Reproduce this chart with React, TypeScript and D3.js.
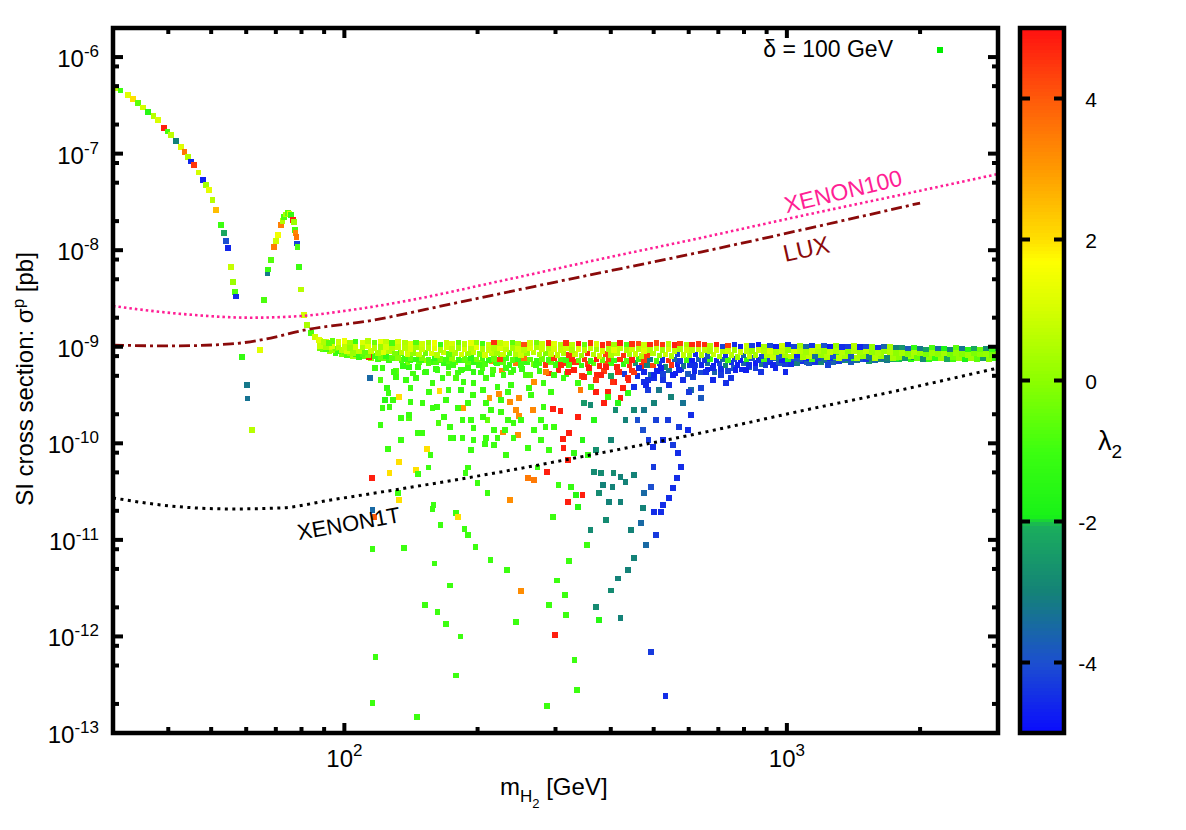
import React from 'react'
import * as d3 from 'd3'

const width = 1186
const height = 830
const plot = { left: 113, right: 998, top: 28, bottom: 733 }
const cbar = { left: 1020, right: 1064 }
const font = 'Liberation Sans, Arial, Helvetica, sans-serif'

// low mass branch: [m_H2 GeV, sigma pb, lambda2]
const resonanceBranch: [number, number, number][] = [
  [30.5, 4.8e-7, 0.8], [31.2, 4.5e-7, -1.0], [32.4, 4.05e-7, 1.2], [33.3, 3.7e-7, 2.0], [34.2, 3.34e-7, -0.6],
  [35.1, 3.0e-7, 1.0], [36.0, 2.7e-7, -1.5], [37.0, 2.45e-7, 0.6], [37.9, 2.23e-7, 1.1], [39.1, 1.84e-7, 4.8],
  [39.8, 1.7e-7, -0.9], [40.6, 1.56e-7, 0.7], [41.6, 1.36e-7, -3.0], [42.7, 1.17e-7, 1.2], [43.5, 1.04e-7, 3.6],
  [44.3, 9.2e-8, 0.5], [45.0, 8.3e-8, -4.6], [45.7, 7.6e-8, 4.5], [46.8, 6.4e-8, 1.0], [47.9, 5.3e-8, -4.7],
  [48.6, 4.7e-8, 0.3], [49.4, 4.2e-8, 1.3], [50.3, 3.3e-8, 0.6], [51.2, 2.6e-8, 2.5], [52.6, 1.82e-8, -1.0],
  [53.4, 1.51e-8, -2.2], [54.0, 1.25e-8, -4.0], [54.5, 1.05e-8, -4.6], [55.4, 6.7e-9, 0.8], [56.0, 4.7e-9, 0.2],
  [56.6, 3.7e-9, -0.8], [56.9, 3.3e-9, -4.5],
  [58.7, 7.8e-10, -1.2], [60.2, 4.0e-10, -3.2], [60.4, 2.9e-10, -3.3], [61.8, 1.37e-10, 0.6], [64.4, 9.2e-10, 1.2],
  [65.8, 3.05e-9, -0.8], [67.1, 5.8e-9, -3.2], [67.3, 6.3e-9, -1.0], [68.2, 7.9e-9, -0.7], [69.3, 1.08e-8, 3.5],
  [70.0, 1.25e-8, 0.9], [70.7, 1.43e-8, 1.5], [71.8, 1.82e-8, 3.4], [72.4, 2.0e-8, 0.5], [73.0, 2.2e-8, -0.8],
  [73.8, 2.35e-8, 0.4], [74.5, 2.43e-8, -0.6], [75.1, 2.4e-8, 1.0], [75.7, 2.31e-8, -1.2], [76.6, 2.05e-8, 4.8],
  [76.9, 1.96e-8, 0.2], [77.3, 1.62e-8, -0.9], [77.6, 1.51e-8, 3.3], [77.9, 1.36e-8, 3.6], [78.2, 1.17e-8, -4.2],
  [78.4, 1.08e-8, -0.8], [78.9, 6.7e-9, -1.0], [79.7, 3.9e-9, 0.6], [81.0, 2.13e-9, 1.0], [82.2, 1.68e-9, 0.4],
  [84.0, 1.39e-9, -0.8], [85.8, 1.27e-9, 0.9], [87.5, 1.17e-9, 1.2], [90.0, 1.12e-9, 0.5], [92.2, 1.09e-9, -0.6],
]

// dense band around 1e-9 pb, sigma in units of 1e-10 pb
const BAND_UNIT = 1e-10
const bandMass = [
  88, 91, 94, 97, 100, 103, 106, 110, 113, 117,
  121, 124, 128, 132, 137, 141, 145, 150, 155, 160,
  165, 170, 175, 181, 187, 193, 199, 205, 212, 218,
  225, 232, 240, 247, 255, 263, 272, 280, 289, 298,
  308, 317, 327, 338, 349, 360, 371, 383, 395, 407,
  420, 434, 447, 462, 476, 491, 507, 523, 540, 557,
  574, 593, 611, 631, 651, 671, 693, 715, 737, 761,
  785, 810, 835, 862, 889, 917, 946, 976, 1007, 1039,
  1072, 1106, 1141, 1177, 1215, 1253, 1293, 1334, 1376, 1420,
  1465, 1511, 1559, 1609, 1660, 1712, 1767, 1823, 1880, 1940,
  2002, 2065, 2130, 2198, 2268, 2340, 2414, 2490, 2569, 2651,
  2735, 2822, 2911, 2990,
]
const bandMassMid = [
  89.5, 92.5, 95.5, 98.5, 101.5, 104.5, 108, 111.5, 115, 119,
  122.5, 126, 130, 134.5, 139, 143, 147.5, 152.5, 157.5, 162,
  167.5, 172.5, 178, 184, 190, 196, 202, 208, 215, 221.5,
  228.5, 236, 243.5, 251, 259, 267.5, 276, 284.5, 293.5, 303,
  312.5, 322, 332.5, 343.5, 354.5, 365.5, 377, 389, 401, 413.5,
  427, 440.5, 454.5, 469, 483.5, 499, 515, 531.5, 548.5, 565.5,
  583.5, 602, 621, 641, 661, 682, 704, 726, 749, 773,
  797.5, 822.5, 848.5, 875.5, 903, 931.5, 961, 991.5, 1023, 1055.5,
  1089, 1123.5, 1159, 1196, 1234, 1273, 1313.5, 1355, 1398, 1442.5,
  1488, 1535, 1584, 1634.5, 1686, 1739.5, 1795, 1851.5, 1910, 1971,
  2033.5, 2097.5, 2164, 2233, 2304, 2377, 2452, 2529.5, 2610, 2693,
  2778.5, 2866.5, 2950,
]
const bandTopSigma = [
  11.6, 11.3, 11.5, 11.2, 11.4, 11.0, 11.3, 11.1, 11.4, 11.0, 11.2, 11.3, 10.9, 11.2,
  11.0, 10.8, 11.1, 10.7, 11.0, 10.9, 10.6, 11.1, 10.8, 11.0, 10.7, 10.9, 11.1, 10.8, 10.6, 11.0, 10.9, 10.7, 11.0, 10.8, 10.6, 10.9, 11.1, 10.7, 10.9, 10.8, 10.6,
  10.9, 10.6, 10.8, 10.5, 10.9, 10.7, 10.4, 10.8, 10.6, 10.9, 10.5, 10.7, 10.8, 10.4, 10.6, 10.9, 10.5, 10.7, 10.4, 10.8, 10.6, 10.5, 10.7,
  10.4, 10.2, 10.5, 10.1, 10.3, 10.4, 10.0, 10.3, 10.2, 10.4, 10.1, 10.3, 10.0, 10.2, 10.4, 10.1, 10.3, 10.0, 10.2, 10.1, 10.3, 10.0, 10.2, 9.9, 10.1, 10.2, 9.9, 10.1, 10.0, 9.8, 10.1, 9.9, 9.8,
  9.7, 9.5, 9.8, 9.6, 9.4, 9.7, 9.5, 9.6, 9.4, 9.7, 9.5, 9.3, 9.6, 9.4, 9.5, 9.3, 9.5,
]
const bandTopLambda = [
  0.8, 1.2, -0.6, 0.9, 1.4, 0.3, -1.0, 1.1, 0.6, -0.4, 1.3, 0.7, -0.8, 1.0,
  0.5, 1.2, -0.7, 0.9, 0.2, 1.4, -1.1, 0.8, 1.0, -0.5, 0.6, 1.3, 0.1, -0.9, 0.9, 4.6, 0.7, 1.1, -0.6, 0.4, 4.2, 1.0, -0.3, 0.8, 4.7, 1.2, 0.5,
  4.6, 0.6, 4.8, -0.5, 4.5, 1.0, 4.7, 4.4, 0.3, 4.8, -0.8, 4.6, 4.2, 0.9, 4.7, 4.3, 4.5, 0.6, 4.8, 4.4, 0.4, 4.7, 4.5,
  4.6, 0.5, 4.8, -4.2, 4.4, -4.5, -4.7, 0.8, -4.3, -4.8, 0.4, -4.1, -4.7, 0.9, -4.5, -4.2, 0.3, -3.5, -4.4, 0.7, -4.0, -4.7, 0.2, -4.5, -4.3, 0.6, -4.6, -4.1, 0.1, -4.4, -3.6, 0.4, -3.0,
  -2.6, -3.8, -1.2, -3.2, -2.4, -0.8, -3.5, -1.8, -2.9, -0.6, -3.3, -1.5, -2.2, -0.4, -2.7, -1.0, -2.0,
]
const bandCoreSigma = [
  10.2, 9.9, 10.1, 9.8, 10.0, 9.7, 10.0, 9.8, 10.1, 9.7, 9.9, 10.0, 9.6, 9.9,
  9.7, 9.5, 9.8, 9.4, 9.7, 9.6, 9.3, 9.8, 9.5, 9.7, 9.4, 9.6, 9.8, 9.5, 9.3, 9.7, 9.6, 9.4, 9.7, 9.5, 9.3, 9.6, 9.8, 9.4, 9.6, 9.5, 9.3,
  9.6, 9.3, 9.5, 9.2, 9.6, 9.4, 9.1, 9.5, 9.3, 9.6, 9.2, 9.4, 9.5, 9.1, 9.3, 9.6, 9.2, 9.4, 9.1, 9.5, 9.3, 9.2, 9.4,
  9.2, 9.0, 9.3, 8.9, 9.1, 9.2, 8.8, 9.1, 9.0, 9.2, 8.9, 9.1, 8.8, 9.0, 9.2, 8.9, 9.1, 8.8, 9.0, 8.9, 9.1, 8.8, 9.0, 8.7, 8.9, 9.0, 8.7, 8.9, 8.8, 8.6, 8.9, 8.7, 8.6,
  8.6, 8.4, 8.7, 8.5, 8.3, 8.6, 8.4, 8.5, 8.3, 8.6, 8.4, 8.2, 8.5, 8.3, 8.4, 8.2, 8.4,
]
const bandCoreLambda = [
  0.8, 0.3, 1.1, 0.5, 0.7, 0.1, 0.9, 0.4, 1.2, 0.6, 0.2, 1.0, 0.5, 0.8,
  0.6, 1.1, 0.3, 0.8, 0.5, 1.2, 0.4, 0.9, 0.7, 0.2, 1.0, 0.6, 1.3, 0.4, 0.8, 0.5, 1.1, 0.7, 0.3, 0.9, 0.6, 1.2, 0.4, 0.8, 0.5, 1.0, 0.7,
  0.9, 0.4, 1.1, 0.6, 0.8, 0.3, 1.0, 0.5, 1.2, 0.7, 0.4, 0.9, 0.6, 1.1, 0.5, 0.8, 0.3, 1.0, 0.7, 0.4, 0.9, 0.6, 0.8,
  0.7, 0.4, 1.0, 0.5, 0.8, 0.3, 0.9, 0.6, 0.2, 0.8, 0.5, 1.0, 0.4, 0.7, 0.1, 0.9, 0.6, 0.3, 0.8, 0.5, 0.2, 0.7, 0.4, 0.6, 0.0, 0.5, 0.3, 0.6, 0.1, 0.4, 0.2, 0.5, 0.0,
  0.3, -0.1, 0.4, 0.1, -0.2, 0.2, 0.0, 0.3, -0.3, 0.1, -0.1, 0.2, -0.2, 0.0, 0.1, -0.3, -0.1,
]
const bandInnerSigma = [
  10.4, 10.0, 9.6, 9.3, 9.1, 8.6, 8.9, 8.7, 9.0, 8.6, 8.8, 8.9, 8.5,
  8.7, 8.4, 8.6, 8.3, 8.6, 8.5, 8.2, 8.7, 8.4, 8.6, 8.3, 8.5, 8.7, 8.4, 8.2, 8.6, 8.5, 8.3, 8.6, 8.4, 8.2, 8.5, 8.7, 8.3, 8.5, 8.4, 8.2,
  8.5, 8.2, 8.4, 8.1, 8.5, 8.3, 8.0, 8.4, 8.2, 8.5, 8.1, 8.3, 8.4, 8.0, 8.2, 8.5, 8.1, 8.3, 8.0, 8.4, 8.2, 8.1, 8.3,
  8.2, 8.0, 8.3, 7.9, 8.1, 8.2, 7.8, 8.1, 8.0, 8.2, 7.9, 8.1, 7.8, 8.0, 8.2, 7.9, 8.1, 7.8, 8.0, 7.9, 8.1, 7.8, 8.0, 7.7, 7.9, 8.0, 7.7, 7.9, 7.8, 7.6, 7.9, 7.7, 7.6,
  7.8, 7.6, 7.9, 7.7, 7.5, 7.8, 7.6, 7.7, 7.5, 7.8, 7.6, 7.4, 7.7, 7.5, 7.6, 7.4, 7.6,
]
const bandInnerLambda = [
  0.4, 0.9, -0.3, 0.6, 1.0, 0.2, 0.7, -0.5, 0.8, 0.3, 1.1, 0.5, -0.2,
  0.6, 0.9, 0.1, 0.7, -0.4, 1.0, 0.5, 0.8, -0.6, 0.4, 0.9, 0.2, 0.7, -0.3, 1.0, 0.6, 0.3, 0.8, -0.5, 0.5, 0.9, 0.1, 0.7, 0.4, -0.2, 0.8, 0.6,
  0.5, 4.5, 0.8, 0.2, 4.7, 0.6, 0.9, 4.3, 0.4, 0.7, 4.6, 0.3, 0.8, 0.5, 4.4, 0.6, 0.2, 0.9, 0.4, -4.2, 0.7, 0.3, -4.5,
  0.5, -3.8, 0.8, 0.3, -4.4, 0.6, 0.2, -3.5, 0.7, 0.4, -4.1, 0.5, 0.8, -3.9, 0.3, 0.6, -4.6, 0.4, 0.7, -3.4, 0.2, 0.5, -4.0, 0.6, 0.3, -3.7, 0.4, 0.1, -3.2, 0.5, 0.2, -2.9, 0.3,
  0.0, -2.5, 0.3, -0.5, -2.8, 0.1, -1.2, 0.2, -2.2, -0.3, 0.1, -1.8, 0.2, -0.6, -2.4, 0.0, -1.0,
]
const bandFillSigma = [
  9.6, 9.4, 9.2, 9.0, 8.8, 8.6, 8.4, 8.3, 8.1, 8.0, 7.8, 7.9, 7.6, 7.7,
  7.5, 7.7, 7.4, 7.6, 7.3, 7.7, 7.5, 7.4, 7.6, 7.3, 7.5, 7.7, 7.4, 7.6, 7.3, 7.5, 7.4, 7.7, 7.3, 7.5, 7.6, 7.4, 7.2, 7.5, 7.3, 7.6, 7.4,
  7.3, 7.5, 7.2, 7.4, 7.1, 7.4, 7.3, 7.5, 7.2, 7.4, 7.1, 7.3, 7.5, 7.2, 7.4, 7.1, 7.3, 7.2, 7.4, 7.1, 7.3, 7.2, 7.4,
  7.3, 7.5, 7.2, 7.4, 7.3, 7.5, 7.2, 7.4, 7.6, 7.3, 7.5, 7.4, 7.6, 7.3, 7.5, 7.7, 7.4, 7.6, 7.5, 7.7, 7.4, 7.6, 7.8, 7.5, 7.7, 7.6, 7.8, 7.5, 7.7, 7.9, 7.6, 7.8, 7.7,
  7.9, 8.1, 7.8, 8.0, 7.9, 8.1, 7.8, 8.0, 8.2, 7.9, 8.1, 8.0, 7.8, 8.1, 7.9, 8.0, 7.8,
]
const bandFillLambda = [
  -0.3, -0.9, 0.2, -1.1, -0.5, 0.0, -1.2, -0.7, -0.2, -1.0, -0.4, -1.3, -0.6, -0.1,
  -1.0, -0.5, -1.2, -0.2, -0.8, -1.3, -0.4, -0.9, 0.1, -1.1, -0.6, -1.4, -0.3, -0.9, -1.2, -0.5, 4.4, -1.0, -0.7, -1.3, 3.6, -0.6, -1.1, -0.4, -0.9, 4.6, -0.8,
  -1.0, 4.7, -0.6, 4.5, -1.2, 4.8, -0.4, 4.3, -1.1, 4.6, -0.7, 4.8, -1.3, 4.4, -3.2, -0.8, -4.5, 4.6, -3.6, -4.3, -1.0, -4.7, -3.8,
  -4.4, -1.2, -4.6, -3.5, -0.9, -4.2, -4.8, -1.4, -3.9, -4.5, -0.8, -4.3, -3.4, -4.7, -1.1, -4.0, -3.7, -4.6, -0.7, -4.2, -3.3, -4.5, -1.3, -3.9, -4.1, -0.9, -3.6, -4.4, -2.8, -1.2, -3.5, -2.6, -1.0,
  -2.3, -0.8, -2.9, -1.5, -0.4, -2.5, -1.7, -0.6, -2.1, -1.2, -0.3, -2.6, -1.0, -1.8, -0.5, -2.2, -1.4,
]
const bandLowSigma = [
  9.4, 9.0, 8.6, 8.4, 8.2, 8.0, 7.8, 7.9, 7.6, 7.4, 7.7, 7.3, 7.6,
  7.3, 7.0, 7.4, 6.9, 7.2, 7.0, 7.3, 6.8, 7.1, 6.9, 7.2, 6.7, 7.0, 6.8, 6.6, 7.1, 6.8, 6.9, 6.5, 6.8, 6.7, 7.0, 6.6, 6.8, 6.5, 6.9, 6.7,
  6.7, 6.5, 6.9, 6.4, 6.6, 6.8, 6.3, 6.6, 6.7, 6.2, 6.6, 6.4, 6.8, 6.3, 6.5, 6.4, 6.7, 6.2, 6.5, 6.6, 6.3, 6.5, 6.4,
  6.5, 6.8, 6.3, 6.7, 6.4, 6.9, 6.5, 6.7, 6.3, 6.8, 6.6, 6.9, 6.5, 6.8, 6.6, 7.0, 6.7, 7.1, 6.8, 7.0, 6.9, 7.2, 6.9, 7.1, 7.3, 7.0, 7.2, 7.4, 7.1, 7.3, 7.5, 7.2, 7.4,
  7.5, 7.7, 7.4, 7.6, 7.8, 7.5, 7.7, 7.6, 7.8, 7.5, 7.7, 7.9, 7.6, 7.8, 7.7, 7.9, 7.7,
]
const bandLowLambda = [
  -0.6, 0.3, -1.0, -0.2, -0.8, 0.4, -1.2, -0.5, 0.1, -0.9, -0.3, -1.1, -0.4,
  -0.8, -0.2, -1.3, -0.6, 0.2, -1.0, -0.4, -1.2, -0.7, 0.0, -0.9, -0.5, -1.3, -0.3, -0.8, 3.2, -1.0, -0.6, -1.2, 3.5, -0.7, -1.1, -0.2, -0.9, 4.5, -0.5, -1.0,
  4.6, -0.8, 4.8, -1.2, 4.4, -0.6, 4.7, 4.2, -1.0, 4.8, -1.4, 4.5, -2.5, 4.7, -3.0, 4.3, -4.4, -2.8, 4.6, -4.6, -3.2, -4.5, -4.2,
  -4.6, -3.4, -4.8, -4.1, -3.0, -4.5, -4.7, -3.6, -4.3, -4.8, -3.2, -4.4, -4.6, -3.8, -4.2, -4.7, -3.1, -4.5, -3.9, -4.4, -2.9, -4.1, -3.6, -4.3, -2.7, -3.8, -3.3, -4.0, -2.5, -3.5, -2.9, -3.2, -2.2,
  -2.0, -2.8, -1.5, -2.4, -1.8, -1.1, -2.6, -1.4, -2.0, -0.9, -2.3, -1.6, -1.2, -2.1, -0.8, -1.7, -1.3,
]
// sparse lower edge of the band: [m GeV, sigma 1e-10 pb, lambda2]
const bandEdge: [number, number, number][] = [
  [122, 6.0, -1.0], [131, 5.6, -0.7], [140, 6.2, -1.2], [152, 5.4, -0.9], [161, 5.9, -1.1], [172, 5.3, -0.6], [185, 5.8, -1.0],
  [196, 5.5, -1.2], [205, 6.0, -0.8], [216, 5.2, -1.0], [227, 5.7, 3.3], [238, 5.4, -0.9], [252, 5.9, -1.1], [263, 5.1, -0.7],
  [276, 5.6, -1.0], [290, 5.3, 4.6], [305, 5.7, 4.7], [318, 5.2, -1.0], [330, 5.8, 4.8], [344, 5.0, 4.5], [358, 5.5, -1.3],
  [372, 5.1, 4.7], [386, 5.6, 4.4], [400, 5.0, -2.2], [415, 5.4, 4.8], [430, 5.2, -4.3], [446, 5.7, 4.6], [460, 5.0, -4.5],
  [476, 5.5, -4.6], [492, 5.1, -3.5], [508, 5.6, -4.7], [525, 5.2, -4.2], [542, 5.7, -3.3], [560, 5.3, -4.8], [578, 5.8, -4.4],
  [598, 5.2, -3.8], [618, 5.6, -4.6], [640, 5.4, -4.1], [662, 5.8, -4.7], [686, 5.5, -3.6], [710, 5.9, -4.5], [735, 5.6, -4.2],
  [760, 6.0, -3.9], [790, 5.8, -4.6], [820, 6.2, -3.5], [850, 6.0, -4.3],
]

// points spread below the band: [m GeV, sigma pb, lambda2]
const scatterPoints: [number, number, number][] = [
  [113.5, 7.8e-10, 4.8], [114.1, 4.75e-10, -3.5], [119.6, 8.43e-10, -1], [124.8, 3.75e-10, -1.2], [125.9, 3.32e-10, -1],
  [123.6, 2.81e-10, -1.5], [126.4, 2.38e-10, -1], [132.7, 3.02e-10, 2], [130.7, 4.86e-10, -1], [134.1, 1.83e-10, -1],
  [139.8, 1.83e-10, -0.8], [146.5, 1.28e-10, -1], [153.5, 8.7e-11, 2], [164.2, 3.47e-10, 2], [161.7, 2.38e-10, -1],
  [163.3, 1.63e-10, -0.8], [173.0, 1.48e-10, -1], [176.6, 1.14e-10, -1.2], [178.5, 4.75e-10, -0.8], [186.0, 4.3e-10, -1],
  [186.0, 2.33e-10, 3], [193.0, 1.74e-10, -1], [205.5, 3.57e-10, -1], [213.0, 2.95e-10, 3], [210.8, 1.74e-10, -0.5],
  [217.6, 9.6e-11, -1], [207.7, 9.8e-11, -1], [223.3, 3.24e-10, 3.2], [228.0, 1.30e-10, 3.2], [234.0, 1.74e-10, -1],
  [236.4, 2.68e-10, 3.2], [246.6, 1.22e-10, 3.2], [247.8, 1.92e-10, 3.2], [259.7, 8.9e-11, -1], [266.5, 2.21e-10, 3.3],
  [267.9, 4.3e-10, 3.2], [282.0, 2.38e-10, -1], [296.0, 2.26e-10, 4.8], [308.0, 2.16e-10, 4.8], [297.5, 1.48e-10, -1],
  [311.6, 1.11e-10, 4.8], [313.0, 8.9e-11, 4.8], [321.5, 1.28e-10, 4.8], [330.0, 7.9e-11, -1.2], [319.8, 6.7e-11, 4.8],
  [337.0, 1.87e-10, 4.8], [345.5, 1.08e-10, -1.5], [355.0, 7.6e-11, -1.2], [342.0, 3.57e-10, 3.5], [347.5, 2.63e-10, -2.5],
  [360.0, 2.5e-10, -2.8], [366.0, 1.74e-10, -1.5], [370.0, 3.40e-10, 4.8], [385.6, 2.63e-10, 4.8], [394.0, 3.40e-10, 4.8],
  [406.4, 4.3e-10, 4.8], [421.0, 2.95e-10, 4.8], [439.0, 4.53e-10, 4.8], [450.7, 3.85e-10, -4.5], [475.0, 4.3e-10, -4.5],
  [500.5, 4.75e-10, -4.5], [485.0, 3.57e-10, -4.3], [366.0, 5.05e-11, -2.8], [380.0, 4.93e-11, -2.8], [406.0, 4.93e-11, -2.8],
  [421.0, 4.5e-11, -3], [450.7, 4.7e-11, -3], [384.0, 3.70e-11, -3], [404.0, 3.53e-11, -3], [432.0, 3.97e-11, -3],
  [460.0, 1.74e-10, -4], [472.5, 1.37e-10, -4], [487.0, 1.08e-10, -4.3], [497.7, 9.1e-11, -4.5], [538.0, 1.74e-10, -4.3],
  [570.0, 1.48e-10, -4.3], [597.0, 1.37e-10, -4.5], [567.0, 7.9e-11, -4.5], [576.0, 5.7e-11, -4.5], [500.0, 5.7e-11, -4.3],
  [492.5, 3.53e-11, -4], [475.0, 3.07e-11, -3.5], [519.0, 1.95e-11, -4.5], [500.5, 1.95e-11, -4.5], [472.5, 2.14e-11, -3],
  [396.0, 2.47e-11, -3], [421.0, 2.47e-11, -3], [376.0, 3.07e-11, -2.8], [273.0, 5.6e-11, -1], [287.0, 5.05e-11, 4.8],
  [259.7, 4.4e-11, 3.5], [267.9, 4.17e-11, 3.5], [305.0, 3.70e-11, -1], [324.8, 3.53e-11, -1.2], [333.3, 2.92e-11, -1.5],
  [345.5, 2.92e-11, 4.8], [319.8, 2.47e-11, 4.8], [337.0, 2.19e-11, -1.5], [296.0, 1.73e-11, -1], [236.4, 2.59e-11, 3.2],
  [210.8, 3.07e-11, -1], [188.0, 4.93e-11, -1], [190.0, 5.6e-11, -1], [200.0, 3.88e-11, -1], [178.5, 1.91e-11, -1],
  [180.4, 1.73e-11, 2], [145.0, 5.29e-11, 2], [146.5, 4.8e-11, -1], [126.4, 4.93e-11, 2], [132.7, 6.4e-11, 2],
  [155.0, 5.6e-11, -1], [125.4, 8.7e-11, -1], [115.3, 4.4e-11, 4.8], [132.0, 3.07e-11, -1], [132.7, 2.59e-11, 2],
  [159.0, 2.30e-11, -1], [158.3, 2.09e-11, -1], [115.8, 2.04e-11, -3.5], [117.0, 1.73e-11, 4], [165.0, 1.42e-11, -1],
  [187.0, 1.30e-11, -1], [190.0, 1.12e-11, -1], [136.2, 8.2e-12, -1], [198.0, 8.4e-12, -1], [115.8, 8.0e-12, -1],
  [160.0, 5.7e-12, -1], [173.0, 3.37e-12, -1], [152.0, 2.12e-12, -1], [162.5, 1.79e-12, -1], [169.5, 1.35e-12, -1],
  [183.0, 1.0e-12, -1], [178.5, 3.94e-13, -1], [117.6, 6.1e-13, -1], [115.8, 2.05e-13, -1], [145.8, 1.47e-13, -1],
  [214.0, 6.2e-12, -1], [232.8, 4.9e-12, -1], [250.4, 2.95e-12, 3.2], [244.0, 1.41e-12, -1], [299.0, 1.03e-12, 4.8],
  [289.7, 2.12e-12, -1], [302.0, 3.8e-12, -1], [315.0, 2.68e-12, -1], [321.5, 6.0e-12, -1], [316.6, 1.67e-12, -1],
  [331.5, 5.7e-13, -1], [335.0, 2.8e-13, -1], [287.0, 1.9e-13, -1], [370.0, 2.02e-12, -2.8], [376.0, 1.48e-12, -1.5],
  [400.0, 3.0e-12, -2.8], [414.8, 3.97e-12, -3], [437.0, 4.9e-12, -3], [450.7, 6.5e-12, -3], [480.0, 8.8e-12, -3.5],
  [505.6, 1.12e-11, -4.3], [421.0, 1.55e-12, -3], [492.5, 6.9e-13, -4.3], [532.0, 2.4e-13, -4.5], [353.0, 8.8e-12, -1],
  [360.0, 1.27e-11, -2.8], [390.0, 1.61e-11, -2.8], [443.8, 1.27e-11, -3], [467.6, 1.5e-11, -3.5], [524.5, 2.3e-11, -4.5],
  [541.0, 2.7e-11, -4.5], [552.5, 3.45e-11, -4.5], [564.0, 4.4e-11, -4.5],
  [126.4, 7.5e-10, -1], [134.1, 8.6e-10, -0.8], [141.2, 7.3e-10, -1], [146.5, 6.2e-10, -1], [155.0, 6.8e-10, -0.7],
  [162.5, 5.75e-10, -1], [172.0, 6.2e-10, -1], [180.4, 5.4e-10, -0.9], [190.0, 6.05e-10, -1], [203.3, 5.4e-10, -1],
  [216.5, 5.75e-10, -0.8], [229.0, 5.1e-10, -1], [241.0, 5.75e-10, -1], [129.3, 5.5e-10, -1], [145.0, 4.75e-10, -1],
  [158.3, 4.2e-10, -1], [172.0, 3.57e-10, -1], [196.0, 4.2e-10, -1], [222.0, 3.85e-10, -1], [234.0, 3.4e-10, -1],
  [247.8, 2.95e-10, 3.2], [261.0, 3.75e-10, -1], [282.0, 4.2e-10, -1], [297.5, 5.1e-10, -1], [313.0, 4.75e-10, -1],
  [141.2, 3.75e-10, -1], [150.3, 2.63e-10, -1], [122.0, 2.33e-10, -1], [128.6, 2.81e-10, -1], [141.2, 2.68e-10, -1],
  [158.3, 2.33e-10, -1], [167.8, 1.87e-10, -1], [185.0, 1.74e-10, -1], [196.0, 1.45e-10, -1], [205.5, 1.87e-10, -1],
  [217.6, 1.37e-10, -1], [230.5, 1.37e-10, -1], [139.8, 1.97e-10, -1], [180.4, 2.33e-10, -1], [190.0, 2.63e-10, -1],
  [208.8, 2.63e-10, -1], [225.6, 2.12e-10, -1], [241.0, 1.63e-10, -1], [250.4, 1.74e-10, -1], [267.9, 1.37e-10, -1],
  [285.0, 1.48e-10, -1], [277.8, 1.08e-10, -1], [150.3, 1.28e-10, -1], [173.9, 1.14e-10, -1], [185.0, 1.14e-10, -1],
  [196.0, 1.08e-10, -1], [208.8, 1.14e-10, -1], [222.0, 1.14e-10, -1], [241.0, 1.14e-10, -1],
  [117.1, 6.05e-10, -1], [120.8, 4.53e-10, -0.8], [128.6, 7.67e-10, -1], [135.5, 6.34e-10, -1.2], [137.6, 4.53e-10, -1],
  [142.8, 5.3e-10, -0.9], [148.8, 7.3e-10, -1], [152.7, 5.48e-10, -1.1], [155.1, 3.4e-10, -1], [160.9, 6.97e-10, -0.8],
  [166.8, 4.75e-10, -1], [169.5, 2.81e-10, -1], [175.8, 6.48e-10, -1], [183.2, 3.57e-10, -1.2], [189.0, 7.3e-10, -0.7],
  [195.0, 3.17e-10, -1], [201.2, 6.48e-10, -1], [208.8, 4.75e-10, -0.9], [214.2, 2.21e-10, -1], [219.9, 6.97e-10, -1],
  [225.6, 2.81e-10, -1.1], [231.6, 6.05e-10, -1], [237.7, 4.02e-10, -1], [243.9, 2.21e-10, 3.2], [250.4, 6.48e-10, -1],
  [257.0, 5.1e-10, -0.8], [263.7, 3.17e-10, -1], [270.7, 6.48e-10, -1], [277.8, 1.74e-10, -1], [285.2, 5.48e-10, 3.4],
  [292.7, 3.4e-10, -1], [300.4, 6.48e-10, -1], [289.7, 8.5e-11, -1], [231.6, 7.6e-11, -1], [193.0, 8.5e-11, -1],
  [156.7, 7.6e-11, -1], [134.1, 1.08e-10, -1], [120.8, 1.55e-10, -1], [165.1, 7.3e-10, -1], [225.6, 7.67e-10, -0.9],
  [183.2, 5.75e-10, -1],
  [330.0, 5.75e-10, 4.8], [347.5, 4.86e-10, 4.7], [379.7, 5.1e-10, 4.8], [404.0, 4.3e-10, 4.6], [437.0, 4.75e-10, 4.8],
  [450.7, 5.4e-10, 4.5], [337.0, 4.2e-10, -1], [360.4, 3.85e-10, -1.2], [394.0, 3.02e-10, -1], [414.8, 2.63e-10, -1.5],
  [437.0, 3.32e-10, -1.3], [485.0, 4.53e-10, -4.5], [500.5, 5.1e-10, -4.6], [524.5, 4.53e-10, -4.4], [552.5, 5.1e-10, -4.7],
  [581.8, 4.53e-10, -4.5], [612.8, 4.86e-10, -4.3], [513.5, 3.57e-10, -3.2], [546.6, 3.02e-10, -3.0], [581.8, 2.63e-10, -3.3],
  [606.5, 3.57e-10, -3.5], [500.5, 2.63e-10, -3.0], [475.0, 2.21e-10, -3.2], [450.7, 2.21e-10, -2.9],
  [308.3, 6.48e-10, 4.7], [320.0, 5.48e-10, 4.8], [333.4, 6.97e-10, 4.6], [356.7, 6.05e-10, 4.8], [370.0, 4.53e-10, 4.5],
  [389.7, 6.2e-10, 4.8], [417.0, 5.48e-10, 4.7], [425.6, 3.75e-10, 4.8], [463.0, 6.05e-10, -4.5], [480.0, 4.02e-10, -4.6],
  [518.9, 6.05e-10, -4.7], [541.0, 4.02e-10, -4.5], [570.0, 5.75e-10, -4.6], [600.0, 3.4e-10, -4.3], [619.0, 6.48e-10, -4.5],
  [639.0, 2.95e-10, -3.8], [680.0, 6.05e-10, -4.6], [747.0, 4.75e-10, -4.4], [808.0, 5.75e-10, -4.7], [895.0, 6.48e-10, -4.3],
  [993.0, 5.48e-10, -4.6], [410.0, 2.21e-10, -2.8], [432.0, 1.74e-10, -3], [505.6, 1.74e-10, -4.2], [524.5, 1.08e-10, -4.5],
  [552.5, 9.6e-11, -4.3], [606.5, 1.97e-10, -4.5], [400.0, 1.08e-10, -2.9], [370.0, 8.5e-11, -2.7],
  [656.0, 5.5e-10, -4.5], [680.0, 4.53e-10, -4.6], [709.0, 5.1e-10, -4.3], [766.0, 5.75e-10, -4.7], [820.0, 6.48e-10, -4.5],
  [873.0, 5.5e-10, -4.4], [943.0, 6.05e-10, -4.6], [1021.0, 6.65e-10, -4.5], [639.0, 3.75e-10, -4.2], [728.0, 4.2e-10, -4.5],
  [1110.0, 6.97e-10, -3.8], [1240.0, 6.48e-10, -4.2],
]

// exclusion limits: [m GeV, sigma pb]
const xenon100: [number, number][] = [
  [30, 2.64e-9], [42.7, 2.19e-9], [61.5, 2.0e-9], [79.7, 2.08e-9], [103.4, 2.4e-9], [134.1, 2.91e-9],
  [225.6, 4.8e-9], [379.7, 8.1e-9], [638.9, 1.34e-8], [1075, 2.26e-8], [1803, 3.73e-8], [3000, 6.15e-8],
]
const lux: [number, number][] = [
  [30, 1.04e-9], [40.6, 1.02e-9], [55.4, 1.07e-9], [68.2, 1.23e-9], [79.7, 1.46e-9], [116.5, 1.89e-9],
  [173.9, 2.77e-9], [292.7, 4.57e-9], [638.9, 9.57e-9], [2000, 3.08e-8],
]
const xenon1t: [number, number][] = [
  [30, 2.72e-11], [40.6, 2.24e-11], [55.4, 2.09e-11], [71.8, 2.14e-11], [93.2, 2.59e-11], [134.1, 3.37e-11],
  [225.6, 5.05e-11], [379.7, 7.94e-11], [638.9, 1.28e-10], [1075, 2.16e-10], [1803, 3.56e-10], [3000, 6.03e-10],
]

const yMajorExp = [-13, -12, -11, -10, -9, -8, -7, -6]
const yMinorFactors = [2, 5, 8]
const xMajorExp = [2, 3]
const xMinorTicks = [40, 50, 60, 70, 80, 90, 200, 300, 400, 500, 600, 700, 800, 900, 2000]
const cbTicks = [-4, -2, 0, 2, 4]

const paletteStops = [-5, -4, -3, -2.05, -1.92, -1, 0, 1, 1.7, 2, 3, 4, 5]
const paletteColors = [
  '#0a0aff', '#1c4fd0', '#148278', '#1aae5c', '#18f218', '#3cff10', '#8cff00',
  '#d4ff00', '#ffff00', '#ffe000', '#ff9a00', '#ff5a0a', '#ff1010',
]

type Pt = { m: number; s: number; l: number }

const fromRows = (masses: number[], sig: number[], lam: number[]): Pt[] =>
  masses
    .map((m, i) => ({ m, s: sig[i] * BAND_UNIT, l: lam[i] }))
    .filter(p => Number.isFinite(p.s) && Number.isFinite(p.l))

export default function App() {
  const x = d3.scaleLog().domain([30, 3000]).range([plot.left, plot.right])
  const y = d3.scaleLog().domain([1e-13, 2e-6]).range([plot.bottom, plot.top])
  const cbY = d3.scaleLinear().domain([-5, 5]).range([plot.bottom, plot.top])
  const color = d3.scaleLinear<string>().domain(paletteStops).range(paletteColors).clamp(true)

  const points: Pt[] = [
    ...bandEdge.map(([m, s, l]) => ({ m, s: s * BAND_UNIT, l })),
    ...fromRows(bandMassMid, bandLowSigma, bandLowLambda),
    ...scatterPoints.map(([m, s, l]) => ({ m, s, l })),
    ...fromRows(bandMass, bandFillSigma, bandFillLambda),
    ...fromRows(bandMass, bandTopSigma, bandTopLambda),
    ...fromRows(bandMassMid, bandInnerSigma, bandInnerLambda),
    ...fromRows(bandMass, bandCoreSigma, bandCoreLambda),
    ...resonanceBranch.map(([m, s, l]) => ({ m, s, l })),
  ]

  const line = d3
    .line<[number, number]>()
    .x(d => x(d[0]))
    .y(d => y(d[1]))
    .curve(d3.curveMonotoneX)

  const yMinor = yMajorExp.slice(0, -1).flatMap(e => yMinorFactors.map(f => f * Math.pow(10, e)))
  const cbSteps = d3.range(-5, 5, 0.05)
  const half = 2.8

  return (
    <svg
      width={width}
      height={height}
      style={{ position: 'absolute', left: 0, top: 0, display: 'block', background: '#fff' }}
      fontFamily={font}
    >
      {/* markers */}
      <g shapeRendering="crispEdges">
        {points.map((p, i) => (
          <rect key={i} x={x(p.m) - half} y={y(p.s) - half} width={half * 2} height={half * 2} fill={color(p.l)} />
        ))}
      </g>

      {/* limit curves */}
      <path d={line(xenon100) || ''} fill="none" stroke="#ff1f95" strokeWidth={2.6} strokeDasharray="2.5,3" />
      <path d={line(lux) || ''} fill="none" stroke="#8a0a0a" strokeWidth={2.8} strokeDasharray="11,4,3,4" />
      <path d={line(xenon1t) || ''} fill="none" stroke="#000" strokeWidth={3} strokeDasharray="3,4.5" />

      <text transform="translate(845,199) rotate(-13.6)" textAnchor="middle" fontSize={23} fill="#ff1f95">XENON100</text>
      <text transform="translate(808,257) rotate(-12.5)" textAnchor="middle" fontSize={24} fill="#8a0a0a">LUX</text>
      <text transform="translate(350,531) rotate(-10)" textAnchor="middle" fontSize={22} fill="#000">XENON1T</text>

      {/* key */}
      <text x={893} y={57} textAnchor="end" fontSize={23}>δ = 100 GeV</text>
      <rect x={937} y={47} width={6} height={6} fill="#00ee00" />

      {/* frame and ticks */}
      <g stroke="#000" strokeWidth={4}>
        {yMajorExp.map(e => {
          const yy = y(Math.pow(10, e))
          return (
            <g key={`ym${e}`}>
              <line x1={plot.left} x2={plot.left + 10} y1={yy} y2={yy} />
              <line x1={plot.right} x2={plot.right - 10} y1={yy} y2={yy} />
            </g>
          )
        })}
        {yMinor.map(v => (
          <g key={`yn${v}`}>
            <line x1={plot.left} x2={plot.left + 6} y1={y(v)} y2={y(v)} />
            <line x1={plot.right} x2={plot.right - 6} y1={y(v)} y2={y(v)} />
          </g>
        ))}
        {xMajorExp.map(e => {
          const xx = x(Math.pow(10, e))
          return (
            <g key={`xm${e}`}>
              <line x1={xx} x2={xx} y1={plot.bottom} y2={plot.bottom - 10} />
              <line x1={xx} x2={xx} y1={plot.top} y2={plot.top + 10} />
            </g>
          )
        })}
        {xMinorTicks.map(v => (
          <g key={`xn${v}`}>
            <line x1={x(v)} x2={x(v)} y1={plot.bottom} y2={plot.bottom - 6} />
            <line x1={x(v)} x2={x(v)} y1={plot.top} y2={plot.top + 6} />
          </g>
        ))}
        <rect
          x={plot.left}
          y={plot.top}
          width={plot.right - plot.left}
          height={plot.bottom - plot.top}
          fill="none"
          strokeWidth={4.5}
        />
      </g>

      {/* tick labels */}
      {yMajorExp.map(e => (
        <text key={`yl${e}`} x={99} y={y(Math.pow(10, e)) + 10} textAnchor="end" fontSize={24}>
          10<tspan dy={-10} fontSize={17}>{`${e}`}</tspan>
        </text>
      ))}
      {xMajorExp.map(e => (
        <text key={`xl${e}`} x={x(Math.pow(10, e))} y={767} textAnchor="middle" fontSize={24}>
          10<tspan dy={-11} fontSize={17}>{`${e}`}</tspan>
        </text>
      ))}

      {/* axis titles */}
      <text x={500} y={795} fontSize={24}>
        m<tspan dy={7} fontSize={17}>H</tspan>
        <tspan dy={6} fontSize={13}>2</tspan>
        <tspan dy={-13} fontSize={24}>{' [GeV]'}</tspan>
      </text>
      <text transform="translate(33,379) rotate(-90)" textAnchor="middle" fontSize={24}>
        SI cross section: σ<tspan dy={-9} fontSize={17}>p</tspan>
        <tspan dy={9}>{' [pb]'}</tspan>
      </text>

      {/* colour box */}
      <g shapeRendering="crispEdges">
        {cbSteps.map(v => (
          <rect
            key={`cb${v.toFixed(2)}`}
            x={cbar.left}
            y={cbY(v + 0.05)}
            width={cbar.right - cbar.left}
            height={cbY(v) - cbY(v + 0.05) + 0.6}
            fill={color(v + 0.025)}
          />
        ))}
      </g>
      <g stroke="#000" strokeWidth={4}>
        {cbTicks.map(v => (
          <g key={`cbt${v}`}>
            <line x1={cbar.left} x2={cbar.left + 10} y1={cbY(v)} y2={cbY(v)} />
            <line x1={cbar.right} x2={cbar.right - 10} y1={cbY(v)} y2={cbY(v)} />
          </g>
        ))}
        <rect
          x={cbar.left}
          y={plot.top}
          width={cbar.right - cbar.left}
          height={plot.bottom - plot.top}
          fill="none"
          strokeWidth={4.5}
        />
      </g>
      {cbTicks.map(v => (
        <text key={`cbl${v}`} x={1097} y={cbY(v) + 8} textAnchor="end" fontSize={21}>
          {`${v}`}
        </text>
      ))}
      <text x={1098} y={450} fontSize={27}>
        λ<tspan dy={8} fontSize={19}>2</tspan>
      </text>
    </svg>
  )
}
